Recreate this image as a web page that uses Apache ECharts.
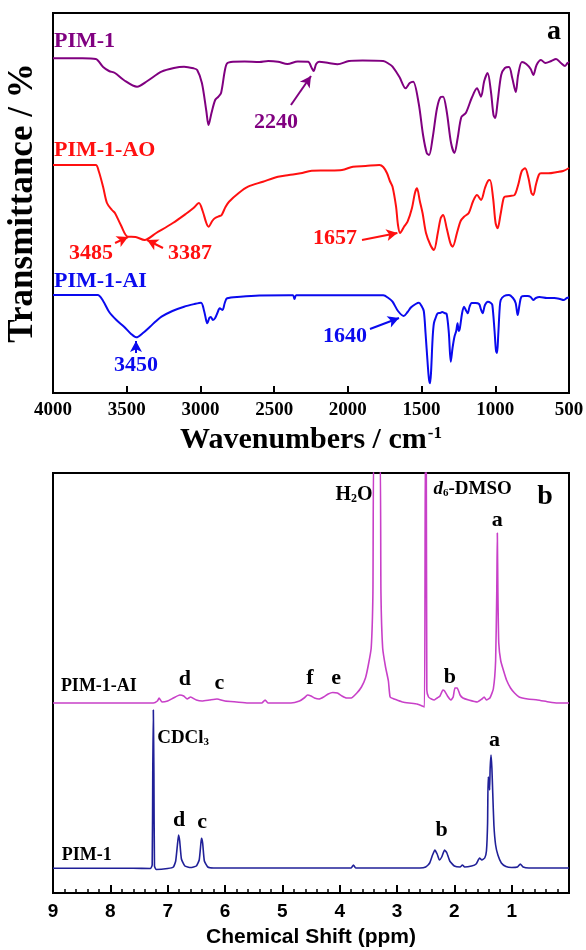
<!DOCTYPE html>
<html>
<head>
<meta charset="utf-8">
<script src="https://cdn.jsdelivr.net/npm/echarts@6/dist/echarts.min.js"></script>
<style>
  html, body { margin: 0; padding: 0; background: #fff; }
  #chart { width: 586px; height: 950px; }
</style>
</head>
<body>
<div id="chart"></div>
<script>
// ---- FTIR spectra (panel a): [wavenumber, relative transmittance] ----
const irPim1 = [
  [4000, 334.7], [3800, 334.7], [3710, 334], [3660, 326], [3620, 322], [3580, 320],
  [3520, 313], [3430, 306.3], [3360, 312], [3264, 321.3], [3180, 325], [3111, 326.3],
  [3047, 324.7], [3022, 323], [2990, 310], [2960, 282], [2945, 268], [2925, 280],
  [2900, 293], [2880, 296], [2860, 300], [2835, 322], [2819, 329.7], [2779, 331.3],
  [2700, 331.5], [2600, 331], [2540, 332], [2474, 331.3], [2410, 329], [2340, 331.5],
  [2270, 331.3], [2245, 325], [2232, 322], [2215, 329], [2195, 331.3], [2130, 330],
  [2070, 328.7], [1992, 332], [1900, 332.5], [1760, 332], [1720, 329], [1697, 326.3],
  [1650, 316], [1608, 304.7], [1580, 310], [1557, 311.3], [1520, 290], [1490, 258],
  [1465, 240], [1449, 238], [1425, 255], [1395, 285], [1370, 296], [1354, 296.3],
  [1330, 282], [1300, 250], [1277, 240], [1255, 255], [1230, 276], [1200, 280],
  [1160, 295], [1124, 304.7], [1097, 296.3], [1075, 312], [1052, 320], [1030, 302],
  [1012, 278], [1000, 275], [985, 290], [960, 318], [935, 325], [907, 326],
  [885, 315], [861, 301], [845, 318], [819, 331], [790, 329], [760, 324],
  [742, 318], [720, 328], [690, 333], [660, 330], [620, 332], [588, 334],
  [555, 330], [527, 327], [510, 330], [500, 331]
];
const irPim1AO = [
  [4000, 228], [3850, 228], [3710, 228], [3690, 222], [3660, 206], [3634, 190],
  [3600, 183], [3580, 180], [3540, 168], [3493, 156.3], [3440, 156], [3379, 153],
  [3300, 160], [3187, 170], [3100, 179], [3047, 185], [3010, 190], [2985, 182],
  [2960, 170], [2945, 166.3], [2920, 172], [2900, 175], [2870, 177], [2856, 178],
  [2830, 186], [2806, 191.3], [2740, 200], [2677, 206.3], [2576, 211.3], [2474, 216.3],
  [2400, 218], [2321, 219.7], [2245, 222.3], [2140, 222.5], [2040, 223], [1965, 226.3],
  [1880, 227], [1786, 228], [1760, 226], [1735, 220], [1715, 212], [1697, 206.3],
  [1673, 186.3], [1660, 168], [1646, 160], [1620, 166], [1595, 171.3], [1565, 185],
  [1545, 200], [1531, 204.7], [1512, 192], [1493, 179.7], [1470, 160], [1440, 148],
  [1416, 143], [1390, 160], [1370, 175], [1354, 178], [1330, 165], [1305, 150],
  [1289, 146.3], [1260, 160], [1235, 172], [1212, 176.3], [1180, 180], [1150, 192],
  [1124, 198], [1097, 193], [1070, 205], [1050, 212], [1036, 213], [1015, 195],
  [998, 170], [984, 164.7], [965, 178], [945, 194], [934, 196.3], [900, 197],
  [869, 198], [845, 208], [820, 222], [798, 224.7], [775, 215], [755, 200],
  [742, 198], [725, 208], [705, 218], [690, 219.7], [639, 219.7], [580, 221],
  [540, 222], [500, 225]
];
const irPim1AI = [
  [4000, 98], [3850, 98], [3697, 98], [3660, 92], [3620, 81.3], [3570, 73],
  [3518, 66.3], [3470, 59], [3435, 55.7], [3390, 60], [3342, 66.3], [3300, 72],
  [3264, 76.3], [3190, 82], [3111, 86.3], [3040, 89], [2996, 90.3], [2975, 82],
  [2960, 72], [2953, 69.7], [2940, 75], [2930, 76], [2915, 73], [2900, 75],
  [2885, 80], [2869, 84.7], [2850, 83], [2835, 90], [2819, 94.7], [2729, 96.3],
  [2600, 97.5], [2400, 97.7], [2372, 97.7], [2362, 94], [2350, 97.7], [2200, 97.7],
  [2000, 97.7], [1760, 97.7], [1725, 95], [1697, 91.3], [1660, 82], [1621, 77],
  [1595, 81], [1571, 85.7], [1540, 89], [1518, 90.3], [1500, 87], [1485, 82],
  [1473, 59.7], [1458, 28], [1450, 14], [1443, 9.7], [1436, 20], [1425, 55],
  [1416, 70], [1400, 77], [1391, 79.7], [1375, 80], [1360, 81], [1345, 80],
  [1330, 79], [1315, 60], [1302, 31.3], [1290, 45], [1277, 56.3], [1265, 62],
  [1256, 69.7], [1248, 62], [1240, 65], [1225, 80], [1212, 86.3], [1200, 83],
  [1187, 79.7], [1175, 86], [1160, 90], [1135, 90], [1110, 89], [1098, 84],
  [1086, 79.7], [1070, 88], [1050, 91.3], [1030, 90], [1020, 88], [1005, 62],
  [995, 42], [988, 40], [980, 58], [970, 85], [963, 93], [940, 97],
  [907, 98], [880, 95], [862, 90], [848, 78], [836, 88], [823, 96.3],
  [800, 97], [780, 97], [760, 96], [742, 93], [725, 95], [700, 96],
  [650, 95], [600, 95], [560, 94], [537, 93], [515, 95], [500, 95.5]
];

// ---- 1H NMR spectra (panel b): [chemical shift ppm, intensity] ----
const nmrPim1AI = [
  [9.0, 190], [8.5, 190], [8.0, 190], [7.5, 190], [7.25, 190], [7.18, 192],
  [7.15, 195], [7.1, 191], [7.0, 192], [6.9, 195], [6.79, 198], [6.72, 197],
  [6.66, 194], [6.6, 196], [6.5, 193], [6.4, 192], [6.27, 193], [6.14, 194],
  [6.0, 192], [5.8, 191], [5.6, 190], [5.36, 190], [5.3, 193], [5.25, 190],
  [5.0, 190], [4.85, 190], [4.7, 192], [4.62, 195], [4.56, 198], [4.5, 197],
  [4.44, 195], [4.36, 194], [4.28, 196], [4.2, 199], [4.12, 200.5], [4.04, 200],
  [3.96, 197], [3.88, 195], [3.8, 195], [3.7, 200], [3.62, 206], [3.55, 215],
  [3.5, 228], [3.45, 245], [3.42, 300], [3.4, 450], [3.3, 450], [3.28, 300],
  [3.25, 245], [3.2, 226], [3.15, 212], [3.12, 196], [3.05, 194], [3.0, 193],
  [2.9, 191], [2.79, 190], [2.65, 189], [2.56, 187], [2.52, 186], [2.505, 450],
  [2.49, 450], [2.48, 203], [2.45, 196], [2.4, 194], [2.35, 193], [2.3, 195],
  [2.25, 197], [2.2, 203], [2.17, 202], [2.12, 197], [2.06, 193], [2.02, 196],
  [1.99, 205], [1.95, 205], [1.9, 198], [1.85, 195], [1.75, 193], [1.6, 191],
  [1.52, 194], [1.48, 196], [1.44, 193], [1.38, 195], [1.32, 204], [1.28, 232],
  [1.26, 300], [1.25, 360], [1.24, 300], [1.225, 250], [1.19, 232], [1.14, 222],
  [1.09, 213], [1.02, 205], [0.95, 200], [0.87, 196], [0.72, 194], [0.55, 193],
  [0.35, 191], [0.2, 190], [0, 190]
];
const nmrPim1 = [
  [9.0, 24.7], [8.5, 24.7], [8.0, 24.7], [7.6, 24.7], [7.3, 24.5], [7.27, 28],
  [7.26, 120], [7.25, 183], [7.24, 120], [7.23, 27], [7.2, 23.5], [7.0, 24.5],
  [6.9, 26], [6.86, 32], [6.83, 48], [6.81, 58], [6.79, 52], [6.76, 34],
  [6.7, 27], [6.6, 25.5], [6.5, 27], [6.45, 33], [6.42, 50], [6.41, 54.7],
  [6.39, 50], [6.36, 32], [6.3, 26], [6.2, 25], [6.0, 25], [5.5, 25],
  [5.0, 25], [4.5, 25], [4.0, 25], [3.8, 25], [3.76, 28], [3.72, 25],
  [3.4, 25], [3.0, 25], [2.6, 25], [2.5, 26], [2.43, 30], [2.38, 38],
  [2.34, 43], [2.3, 39], [2.26, 33], [2.22, 36], [2.17, 43], [2.13, 40],
  [2.08, 32], [2.0, 27], [1.9, 26], [1.86, 28], [1.82, 26], [1.7, 27],
  [1.62, 29], [1.56, 35], [1.52, 33], [1.47, 35], [1.44, 42], [1.42, 70],
  [1.41, 116], [1.39, 112], [1.385, 103], [1.375, 125], [1.36, 138], [1.345, 125],
  [1.33, 100], [1.31, 68], [1.28, 48], [1.24, 38], [1.18, 30], [1.1, 26.5],
  [1.0, 25.5], [0.9, 26], [0.85, 29], [0.8, 26], [0.7, 25], [0.4, 25],
  [0.2, 25], [0, 25]
];

// tick settings
const irMin = 500, irMax = 4000, irStep = 500;
const ppmMin = 0, ppmMax = 9, ppmStep = 1;

const serif = '"Liberation Serif", "Times New Roman", serif';
const sans = '"Liberation Sans", Arial, sans-serif';
const purple = '#800080', red = '#ff1010', blue = '#0a0aee';
const magenta = '#c840c8', navy = '#202098';

// annotations: text, data position, colour, size
const annA = [
  { t: 'PIM-1', x: 3993, y: 352, c: purple, s: 22, al: 'left' },
  { t: 'PIM-1-AO', x: 3993, y: 243, c: red, s: 22, al: 'left' },
  { t: 'PIM-1-AI', x: 3993, y: 112, c: blue, s: 22, al: 'left' },
  { t: '2240', x: 2487, y: 271, c: purple, s: 22 },
  { t: '3485', x: 3742, y: 140, c: red, s: 22 },
  { t: '3387', x: 3071, y: 140, c: red, s: 22 },
  { t: '1657', x: 2087, y: 155, c: red, s: 22 },
  { t: '3450', x: 3437, y: 28, c: blue, s: 22 },
  { t: '1640', x: 2019, y: 57, c: blue, s: 22 },
  { t: 'a', x: 602, y: 361, c: '#000', s: 28 }
];
const annB = [
  { t: 'H{sub|2}O', x: 3.75, y: 398, c: '#000', s: 20 },
  { t: '{it|d}{sub|6}-DMSO', x: 1.68, y: 404, c: '#000', s: 19 },
  { t: 'b', x: 0.42, y: 396, c: '#000', s: 28 },
  { t: 'a', x: 1.25, y: 373, c: '#000', s: 22 },
  { t: 'PIM-1-AI', x: 8.2, y: 207, c: '#000', s: 18 },
  { t: 'd', x: 6.7, y: 214, c: '#000', s: 22 },
  { t: 'c', x: 6.1, y: 210, c: '#000', s: 22 },
  { t: 'f', x: 4.52, y: 215, c: '#000', s: 22 },
  { t: 'e', x: 4.06, y: 215, c: '#000', s: 22 },
  { t: 'b', x: 2.08, y: 216, c: '#000', s: 22 },
  { t: 'CDCl{sub|3}', x: 6.73, y: 155, c: '#000', s: 19 },
  { t: 'd', x: 6.8, y: 73, c: '#000', s: 22 },
  { t: 'c', x: 6.4, y: 71, c: '#000', s: 22 },
  { t: 'b', x: 2.22, y: 63, c: '#000', s: 22 },
  { t: 'a', x: 1.3, y: 153, c: '#000', s: 22 },
  { t: 'PIM-1', x: 8.41, y: 38, c: '#000', s: 18 }
];

// arrows in panel a: [from, to]
const arrowsPim1 = [[[2386, 288], [2250, 317]]];
const arrowsAO = [[[3579, 150], [3491, 156]], [[3254, 145], [3362, 153]], [[1904, 153], [1664, 160]]];
const arrowsAI = [[[3437, 40], [3437, 52]], [[1850, 64], [1653, 75]]];

const chart = echarts.init(document.getElementById('chart'));

const arrowLines = (list, color) => ({
  silent: true,
  symbol: ['none', 'arrow'],
  symbolSize: [9, 11],
  lineStyle: { color: color, width: 2, type: 'solid' },
  label: { show: false },
  data: list.map(a => [{ coord: a[0] }, { coord: a[1] }])
});

const frame = { show: true, borderColor: '#000', borderWidth: 2, backgroundColor: '#fff', outerBoundsMode: 'none', containLabel: false };

const option = {
  animation: false,
  backgroundColor: '#fff',
  grid: [
    Object.assign({ left: 53, top: 13, width: 516, height: 380 }, frame),
    Object.assign({ left: 53, top: 473, width: 516, height: 420 }, frame)
  ],
  xAxis: [
    {
      type: 'value', gridIndex: 0, min: irMin, max: irMax, interval: irStep, inverse: true,
      axisLine: { lineStyle: { color: '#000', width: 2 } },
      axisTick: { inside: true, length: 7, lineStyle: { color: '#000', width: 2 } },
      axisLabel: { color: '#000', fontFamily: serif, fontWeight: 'bold', fontSize: 19, margin: 8,
        formatter: v => String(v) },
      splitLine: { show: false },
      name: 'Wavenumbers / cm{sup|-1}',
      nameLocation: 'middle',
      nameGap: 32,
      nameTextStyle: {
        color: '#000', fontFamily: serif, fontWeight: 'bold', fontSize: 30,
        rich: { sup: { color: '#000', fontFamily: serif, fontWeight: 'bold', fontSize: 17, verticalAlign: 'top', padding: [0, 0, 12, 1] } }
      }
    },
    {
      type: 'value', gridIndex: 1, min: ppmMin, max: ppmMax, interval: ppmStep, inverse: true,
      axisLine: { lineStyle: { color: '#000', width: 2 } },
      axisTick: { inside: true, length: 8, lineStyle: { color: '#000', width: 2 } },
      minorTick: { show: true, splitNumber: 5, length: 4, lineStyle: { color: '#000', width: 1.5 } },
      axisLabel: {
        color: '#000', fontFamily: sans, fontWeight: 'bold', fontSize: 19, margin: 9,
        formatter: v => (v === 0 ? '' : String(v))
      },
      splitLine: { show: false },
      name: 'Chemical Shift (ppm)',
      nameLocation: 'middle',
      nameGap: 34,
      nameTextStyle: { color: '#000', fontFamily: sans, fontWeight: 'bold', fontSize: 21 }
    }
  ],
  yAxis: [
    {
      type: 'value', gridIndex: 0, min: 0, max: 380,
      axisLine: { show: true, lineStyle: { color: '#000', width: 2 } },
      axisTick: { show: false }, axisLabel: { show: false }, splitLine: { show: false },
      name: 'Transmittance / %',
      nameLocation: 'middle',
      nameGap: 13,
      nameTextStyle: { color: '#000', fontFamily: serif, fontWeight: 'bold', fontSize: 35 }
    },
    {
      type: 'value', gridIndex: 1, min: 0, max: 420,
      axisLine: { show: true, lineStyle: { color: '#000', width: 2 } },
      axisTick: { show: false }, axisLabel: { show: false }, splitLine: { show: false }
    }
  ],
  series: [
    { name: 'PIM-1', type: 'line', xAxisIndex: 0, yAxisIndex: 0, data: irPim1, showSymbol: false, smooth: 0.3,
      lineStyle: { color: purple, width: 2 }, markLine: arrowLines(arrowsPim1, purple) },
    { name: 'PIM-1-AO', type: 'line', xAxisIndex: 0, yAxisIndex: 0, data: irPim1AO, showSymbol: false, smooth: 0.3,
      lineStyle: { color: red, width: 2 }, markLine: arrowLines(arrowsAO, red) },
    { name: 'PIM-1-AI', type: 'line', xAxisIndex: 0, yAxisIndex: 0, data: irPim1AI, showSymbol: false, smooth: 0.3,
      lineStyle: { color: blue, width: 2 }, markLine: arrowLines(arrowsAI, blue) },
    { name: 'PIM-1-AI NMR', type: 'line', xAxisIndex: 1, yAxisIndex: 1, data: nmrPim1AI, showSymbol: false, smooth: 0.15,
      lineStyle: { color: magenta, width: 1.6 } },
    { name: 'PIM-1 NMR', type: 'line', xAxisIndex: 1, yAxisIndex: 1, data: nmrPim1, showSymbol: false, smooth: 0.15,
      lineStyle: { color: navy, width: 1.6 } }
  ]
};

chart.setOption(option);

// annotation texts placed from data coordinates
const makeText = (a, gridIndex) => {
  const p = chart.convertToPixel({ gridIndex: gridIndex }, [a.x, a.y]);
  const base = { fontFamily: serif, fontWeight: 'bold', fontSize: a.s, fill: a.c };
  return {
    type: 'text',
    x: p[0], y: p[1], z: 100,
    style: {
      text: a.t,
      fontFamily: serif, fontWeight: 'bold', fontSize: a.s, fill: a.c,
      align: a.al || 'center', verticalAlign: 'middle',
      rich: {
        sub: Object.assign({}, base, { fontSize: Math.round(a.s * 0.6), verticalAlign: 'bottom' }),
        it: Object.assign({}, base, { fontStyle: 'italic' })
      }
    }
  };
};

chart.setOption({
  graphic: annA.map(a => makeText(a, 0)).concat(annB.map(a => makeText(a, 1)))
});
</script>
</body>
</html>
